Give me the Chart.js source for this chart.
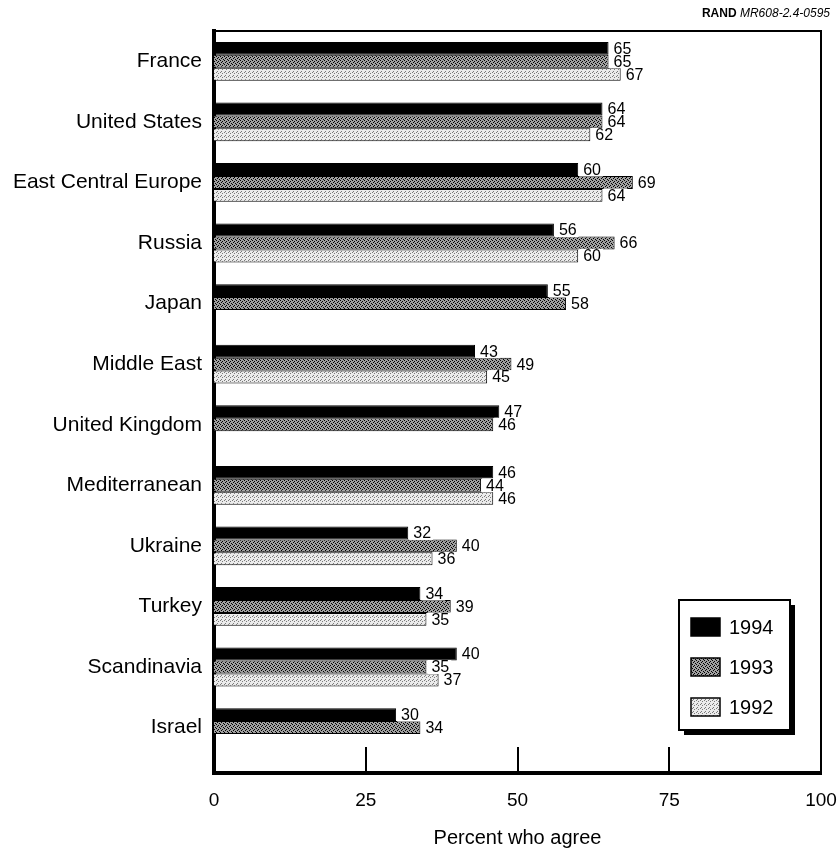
<!DOCTYPE html>
<html>
<head>
<meta charset="utf-8">
<script src="https://cdn.jsdelivr.net/npm/chart.js@4"></script>
<style>
  html, body { margin: 0; padding: 0; background: #fff; }
</style>
</head>
<body>
<canvas id="myChart" width="837" height="856"></canvas>
<script>
const regions = ['France', 'United States', 'East Central Europe', 'Russia', 'Japan',
  'Middle East', 'United Kingdom', 'Mediterranean', 'Ukraine', 'Turkey', 'Scandinavia', 'Israel'];
const years = ['1994', '1993', '1992'];
const v1994 = [65, 64, 60, 56, 55, 43, 47, 46, 32, 34, 40, 30];
const v1993 = [65, 64, 69, 66, 58, 49, 46, 44, 40, 39, 35, 34];
const v1992 = [67, 62, 64, 60, null, 45, null, 46, 36, 35, 37, null];
const xTicks = [0, 25, 50, 75, 100];

const FONT = "'Liberation Sans', Arial, Helvetica, sans-serif";

// little halftone tiles so the grey bars look like the printed screen
function stipple(base, dot, pts, size) {
  const c = document.createElement('canvas');
  c.width = size; c.height = size;
  const g = c.getContext('2d');
  g.fillStyle = base;
  g.fillRect(0, 0, size, size);
  g.fillStyle = dot;
  pts.forEach(p => g.fillRect(p[0], p[1], 1, 1));
  return g.createPattern(c, 'repeat');
}

const fill1994 = '#000000';
const fill1993 = stipple('#a0a0a0', '#000000', [[0, 0], [2, 1], [1, 2], [3, 3]], 4);
const fill1992 = stipple('#ebebeb', '#7a7a7a', [[0, 0], [2, 1], [1, 3]], 4);

const headerPlugin = {
  id: 'header',
  afterDraw(chart) {
    const ctx = chart.ctx;
    ctx.save();
    ctx.textBaseline = 'middle';
    ctx.fillStyle = '#000';
    ctx.font = 'italic 12px ' + FONT;
    const t2 = ' MR608-2.4-0595';
    const w2 = ctx.measureText(t2).width;
    ctx.textAlign = 'right';
    ctx.fillText(t2, 830, 14);
    ctx.font = 'bold 12px ' + FONT;
    ctx.fillText('RAND', 830 - w2, 14);
    ctx.restore();
  }
};

const framePlugin = {
  id: 'frame',
  afterDatasetsDraw(chart) {
    const {ctx, chartArea: a, scales: {x}} = chart;
    ctx.save();
    ctx.strokeStyle = '#000';
    ctx.lineWidth = 2;
    ctx.beginPath();
    ctx.moveTo(a.left, a.top);
    ctx.lineTo(a.right, a.top);
    ctx.lineTo(a.right, a.bottom);
    ctx.stroke();
    // inner tick marks standing on the bottom axis
    xTicks.slice(1, -1).forEach(t => {
      const px = Math.round(x.getPixelForValue(t));
      ctx.beginPath();
      ctx.moveTo(px, a.bottom);
      ctx.lineTo(px, a.bottom - 26);
      ctx.stroke();
    });
    ctx.restore();
  }
};

const valuePlugin = {
  id: 'values',
  afterDatasetsDraw(chart) {
    const ctx = chart.ctx;
    ctx.save();
    ctx.font = '16px ' + FONT;
    ctx.textBaseline = 'middle';
    ctx.textAlign = 'left';
    chart.data.datasets.forEach((ds, di) => {
      const meta = chart.getDatasetMeta(di);
      meta.data.forEach((bar, i) => {
        const v = ds.data[i];
        if (v === null || v === undefined) return;
        const txt = String(v);
        const w = ctx.measureText(txt).width;
        ctx.fillStyle = '#fff';
        ctx.fillRect(bar.x + 1, bar.y - 7, w + 6, 14);
        ctx.fillStyle = '#000';
        ctx.fillText(txt, bar.x + 5, bar.y + 1);
      });
    });
    ctx.restore();
  }
};

const legendPlugin = {
  id: 'boxLegend',
  afterDraw(chart) {
    const ctx = chart.ctx;
    const bx = 679, by = 600, bw = 111, bh = 130;
    ctx.save();
    ctx.fillStyle = '#000';
    ctx.fillRect(bx + 5, by + 5, bw, bh);
    ctx.fillStyle = '#fff';
    ctx.fillRect(bx, by, bw, bh);
    ctx.strokeStyle = '#000';
    ctx.lineWidth = 2;
    ctx.strokeRect(bx, by, bw, bh);
    ctx.font = '20px ' + FONT;
    ctx.textBaseline = 'middle';
    chart.data.datasets.forEach((ds, i) => {
      const cy = by + 27 + i * 40;
      ctx.fillStyle = ds.backgroundColor;
      ctx.fillRect(691, cy - 9, 29, 18);
      ctx.lineWidth = 1.5;
      ctx.strokeRect(691, cy - 9, 29, 18);
      ctx.fillStyle = '#000';
      ctx.fillText(ds.label, 729, cy + 1);
    });
    ctx.restore();
  }
};

const data = {
  labels: regions,
  datasets: [
    { label: years[0], data: v1994, backgroundColor: fill1994, borderColor: '#000', borderWidth: 1 },
    { label: years[1], data: v1993, backgroundColor: fill1993, borderColor: '#000', borderWidth: 1 },
    { label: years[2], data: v1992, backgroundColor: fill1992, borderColor: '#000', borderWidth: 1 }
  ]
};

const config = {
  type: 'bar',
  data,
  options: {
    indexAxis: 'y',
    responsive: false,
    animation: false,
    layout: { padding: { top: 31, right: 16, left: 0, bottom: 0 } },
    datasets: { bar: { categoryPercentage: 0.64, barPercentage: 1.0 } },
    plugins: {
      legend: { display: false },
      tooltip: { enabled: false },
      title: { display: false }
    },
    scales: {
      x: {
        min: 0,
        max: 100,
        afterBuildTicks: s => { s.ticks = xTicks.map(v => ({ value: v })); },
        afterFit: s => { s.height = 83; s.paddingLeft = 0; s.paddingRight = 0; },
        grid: { display: false, drawTicks: false },
        border: { display: true, width: 4, color: '#000' },
        ticks: { color: '#000', font: { size: 19, family: FONT }, padding: 16, maxRotation: 0 },
        title: {
          display: true,
          text: 'Percent who agree',
          color: '#000',
          font: { size: 20, family: FONT },
          padding: { top: 0, bottom: 6 }
        }
      },
      y: {
        afterFit: s => { s.width = 214; },
        // leave a little empty room under the last group, like the original
        afterBuildTicks: s => { s._valueRange = regions.length + 0.25; },
        grid: { display: false, drawTicks: false },
        border: { display: true, width: 4, color: '#000' },
        ticks: { color: '#000', font: { size: 21, family: FONT }, padding: 12 }
      }
    }
  },
  plugins: [framePlugin, valuePlugin, legendPlugin, headerPlugin]
};

new Chart(document.getElementById('myChart'), config);
</script>
</body>
</html>
